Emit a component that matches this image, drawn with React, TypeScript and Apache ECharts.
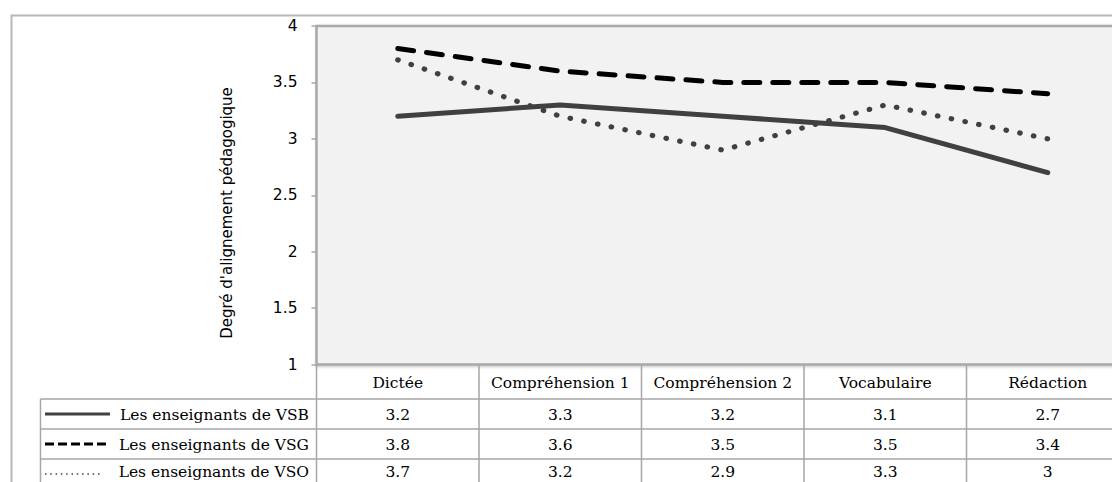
import React, { useEffect, useRef } from "react";
import * as echarts from "echarts";

const categories = ["Dictée", "Compréhension 1", "Compréhension 2", "Vocabulaire", "Rédaction"];
const seriesNames = ["Les enseignants de VSB", "Les enseignants de VSG", "Les enseignants de VSO"];
const vsb = [3.2, 3.3, 3.2, 3.1, 2.7];
const vsg = [3.8, 3.6, 3.5, 3.5, 3.4];
const vso = [3.7, 3.2, 2.9, 3.3, 3];
const tableLabels = [
  ["3.2", "3.3", "3.2", "3.1", "2.7"],
  ["3.8", "3.6", "3.5", "3.5", "3.4"],
  ["3.7", "3.2", "2.9", "3.3", "3"],
];
const yAxisTitle = "Degré d'alignement pédagogique";

const W = 1129;
const H = 482;

export default function App() {
  const ref = useRef<HTMLDivElement>(null);
  useEffect(() => {
    document.body.style.margin = "0";
    document.body.style.overflow = "hidden";
    document.documentElement.style.overflow = "hidden";
    if (!ref.current) return;
    const chart = echarts.init(ref.current, null, { renderer: "svg" });
    const gridLeft = 316.5;
    const gridTop = 26;
    const gridBottomY = 364.5;
    const lineStyles: any[] = [
      { color: "#404040", width: 5, type: "solid", cap: "round", join: "round" },
      { color: "#000000", width: 5, type: [16, 13], cap: "round", join: "round" },
      { color: "#404040", width: 5.2, type: [0.5, 13.5], cap: "round", join: "round" },
    ];
    const allData = [vsb, vsg, vso];
    chart.setOption({
      animation: false,
      grid: {
        left: gridLeft,
        top: gridTop,
        right: 0,
        bottom: H - gridBottomY,
        show: true,
        backgroundColor: "#f2f2f2",
        borderColor: "#a8a8a8",
        borderWidth: 2.5,
        shadowColor: "rgba(0,0,0,0.25)",
        shadowBlur: 3,
        shadowOffsetX: 1,
        shadowOffsetY: 1,
      },
      xAxis: {
        type: "category",
        data: categories,
        boundaryGap: true,
        axisLine: { show: false },
        axisTick: { show: false },
        axisLabel: { show: false },
        splitLine: { show: false },
      },
      yAxis: {
        type: "value",
        min: 1,
        max: 4,
        interval: 0.5,
        axisLine: { show: false },
        axisTick: { show: true, length: 5, inside: false, lineStyle: { color: "#a8a8a8", width: 1.5 } },
        axisLabel: {
          color: "#000",
          fontFamily: "DejaVu Sans, sans-serif",
          fontSize: 15.5,
          margin: 19,
        },
        splitLine: { show: false },
      },
      series: allData.map((d, i) => ({
        type: "line",
        name: seriesNames[i],
        data: d,
        symbol: "none",
        lineStyle: lineStyles[i],
        z: 3 - i + 2,
      })),
    });

    const colW = chart.convertToPixel({ xAxisIndex: 0 }, 1) - chart.convertToPixel({ xAxisIndex: 0 }, 0);
    const headerTop = gridBottomY;
    const headerBottom = 399;
    const rowH = 30;
    const labelColLeft = 40.5;
    const lineColor = "#a6a6a6";
    const lw = 1.5;
    const serif = "DejaVu Serif, serif";
    const fs = 15.5;
    const graphics: any[] = [];
    graphics.push({
      type: "rect",
      shape: { x: 11.5, y: 15.5, width: W + 20, height: H + 20 },
      style: { fill: "none", stroke: "#b8b8b8", lineWidth: 2 },
      silent: true,
      z: -10,
    });
    graphics.push({
      type: "text",
      x: 227,
      y: 213,
      rotation: Math.PI / 2,
      style: {
        text: yAxisTitle,
        fontFamily: "DejaVu Sans, sans-serif",
        fontSize: 15,
        fill: "#000",
        textAlign: "center",
        textVerticalAlign: "middle",
      },
    });
    categories.forEach((c, i) => {
      const cx = chart.convertToPixel({ xAxisIndex: 0 }, i);
      graphics.push({
        type: "text",
        x: cx,
        y: (headerTop + headerBottom) / 2 + 1,
        style: {
          text: c,
          fontFamily: serif,
          fontSize: fs,
          fill: "#000",
          textAlign: "center",
          textVerticalAlign: "middle",
        },
      });
    });
    for (let i = 0; i <= categories.length; i++) {
      const x = chart.convertToPixel({ xAxisIndex: 0 }, i) - colW / 2;
      graphics.push({
        type: "line",
        shape: { x1: x, y1: headerTop, x2: x, y2: H + 10 },
        style: { stroke: lineColor, lineWidth: lw },
      });
    }
    graphics.push({
      type: "line",
      shape: { x1: labelColLeft, y1: headerBottom, x2: labelColLeft, y2: H + 10 },
      style: { stroke: lineColor, lineWidth: lw },
    });
    for (let r = 0; r <= seriesNames.length; r++) {
      const y = headerBottom + r * rowH;
      graphics.push({
        type: "line",
        shape: { x1: labelColLeft, y1: y, x2: W + 20, y2: y },
        style: { stroke: lineColor, lineWidth: lw },
      });
    }
    const keyStyles: any[] = [
      { stroke: "#404040", lineWidth: 3 },
      { stroke: "#000", lineWidth: 3, lineDash: [9, 4] },
      { stroke: "#404040", lineWidth: 1.5, lineDash: [1.5, 3.8] },
    ];
    seriesNames.forEach((name, r) => {
      const rowMid = headerBottom + r * rowH + rowH / 2;
      const cy = Math.min(rowMid + 0.5, H - 10.5);
      graphics.push({
        type: "line",
        shape: { x1: 45, y1: rowMid, x2: r === 2 ? 101 : 110, y2: rowMid },
        style: keyStyles[r],
      });
      graphics.push({
        type: "text",
        x: 309,
        y: cy,
        style: {
          text: name,
          fontFamily: serif,
          fontSize: fs,
          fill: "#000",
          textAlign: "right",
          textVerticalAlign: "middle",
        },
      });
      tableLabels[r].forEach((t, i) => {
        const cx = chart.convertToPixel({ xAxisIndex: 0 }, i);
        graphics.push({
          type: "text",
          x: cx,
          y: cy,
          style: {
            text: t,
            fontFamily: serif,
            fontSize: fs,
            fill: "#000",
            textAlign: "center",
            textVerticalAlign: "middle",
          },
        });
      });
    });
    chart.setOption({ graphic: graphics });
    return () => chart.dispose();
  }, []);
  return <div ref={ref} style={{ width: W, height: H }} />;
}
